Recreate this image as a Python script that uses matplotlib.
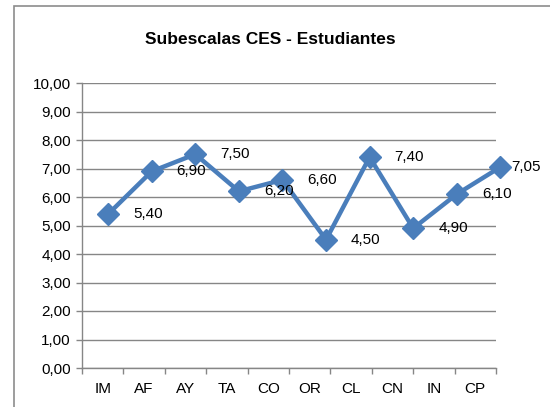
import matplotlib.pyplot as plt
from matplotlib.patches import Rectangle

plt.rcParams['font.family'] = ['Liberation Sans', 'DejaVu Sans']

# Data
categories = ['IM', 'AF', 'AY', 'TA', 'CO', 'OR', 'CL', 'CN', 'IN', 'CP']
values = [5.40, 6.90, 7.50, 6.20, 6.60, 4.50, 7.40, 4.90, 6.10, 7.05]
title = 'Subescalas CES - Estudiantes'

def fmt(v):
    return f'{v:.2f}'.replace('.', ',')

fig = plt.figure(figsize=(5.5, 4.07), dpi=100)
fig.patch.set_facecolor('white')

# chart frame (runs off the right and bottom edges)
fig.patches.append(Rectangle((14 / 550, -0.05), 1.2, 1.05 - 6 / 407,
                             transform=fig.transFigure, fill=False,
                             edgecolor='#8c8c8c', linewidth=1.2, clip_on=False))

ax = fig.add_axes([82 / 550, 1 - 368 / 407, 414 / 550, 285 / 407])
grid_col = '#868686'

ax.set_xlim(-0.5, len(categories) - 0.5)
ax.set_ylim(0, 10)
ax.set_yticks(range(0, 11))
ax.set_yticklabels([fmt(v) for v in range(0, 11)], fontsize=11)
ax.set_xticks(range(len(categories)))
ax.set_xticklabels(categories, fontsize=11)
ax.set_xticks([i - 0.5 for i in range(len(categories) + 1)], minor=True)
ax.tick_params(axis='x', which='major', length=0, pad=10)
ax.tick_params(axis='x', which='minor', length=4, color=grid_col, width=1)
ax.tick_params(axis='y', length=4, color=grid_col, width=1, pad=4)
ax.yaxis.grid(True, color=grid_col, linewidth=1)
ax.set_axisbelow(True)
for s in ['top', 'right']:
    ax.spines[s].set_visible(False)
for s in ['left', 'bottom']:
    ax.spines[s].set_color(grid_col)
    ax.spines[s].set_linewidth(1)

# series on its own x scale (points are spread slightly wider than the categories)
ax2 = ax.twiny()
ax2.set_xlim(-0.6, 8.9)
ax2.set_ylim(0, 10)
ax2.axis('off')
xs = list(range(len(values)))
ax2.plot(xs, values, color='#4a7ebb', linewidth=3.2, marker='D',
         markersize=11, markerfacecolor='#4a7ebb', markeredgecolor='#4a7ebb',
         clip_on=False, zorder=3)

for i, v in enumerate(values):
    off = 8 if i == len(values) - 1 else 18
    ax2.annotate(fmt(v), (i, v), xytext=(off, 0), textcoords='offset points',
                 ha='left', va='center', fontsize=11, color='black',
                 annotation_clip=False)

fig.text(270 / 550, 1 - 40 / 407, title, ha='center', va='center',
         fontsize=12.5, fontweight='bold')

fig.savefig('out.png', dpi=100)
